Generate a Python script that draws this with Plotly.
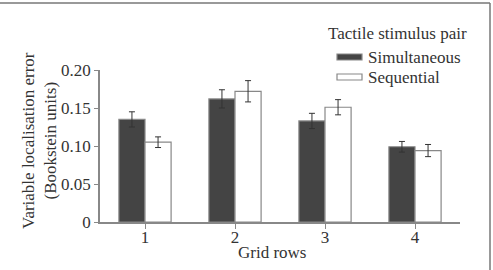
import plotly.graph_objects as go

categories = ["1", "2", "3", "4"]
simultaneous = [0.135, 0.162, 0.133, 0.099]
simultaneous_err = [0.010, 0.012, 0.010, 0.007]
sequential = [0.105, 0.172, 0.151, 0.094]
sequential_err = [0.007, 0.014, 0.010, 0.008]
y_tickvals = [0, 0.05, 0.10, 0.15, 0.20]
y_ticktext = ["0", "0.05", "0.10", "0.15", "0.20"]

FONT = "Liberation Serif"
W, H = 493, 270
ML, MR, MT, MB = 100, 33, 70, 48
PW, PH = W - ML - MR, H - MT - MB


def px(x):
    return (x - ML) / PW


def py(y):
    return (H - MB - y) / PH


fig = go.Figure()
fig.add_trace(go.Bar(
    x=categories, y=simultaneous, name="Simultaneous",
    marker=dict(color="#444444", line=dict(color="#888888", width=1.2)),
    error_y=dict(type="data", array=simultaneous_err, color="#333333", thickness=1, width=3),
))
fig.add_trace(go.Bar(
    x=categories, y=sequential, name="Sequential",
    marker=dict(color="#ffffff", line=dict(color="#888888", width=1.2)),
    error_y=dict(type="data", array=sequential_err, color="#333333", thickness=1, width=3),
))

fig.update_layout(
    width=W, height=H,
    margin=dict(l=ML, r=MR, t=MT, b=MB, pad=0, autoexpand=False),
    paper_bgcolor="white", plot_bgcolor="white",
    barmode="group", bargap=0.42, bargroupgap=0,
    showlegend=False,
    font=dict(family=FONT, size=17, color="#333333"),
    xaxis=dict(
        type="category", range=[-0.5, 3.5], automargin=False,
        showline=True, linecolor="#888888", linewidth=1.5,
        ticks="outside", ticklen=5, tickcolor="#888888", tickwidth=1.2,
        ticklabelstandoff=-6,
        showgrid=False, zeroline=False,
        tickfont=dict(family=FONT, size=17),
    ),
    yaxis=dict(
        range=[0, 0.2], automargin=False,
        showline=True, linecolor="#888888", linewidth=1.5,
        ticks="outside", ticklen=4, tickcolor="#888888", tickwidth=1.2,
        tickvals=y_tickvals, ticktext=y_ticktext,
        showgrid=False, zeroline=False,
        tickfont=dict(family=FONT, size=17),
    ),
)

# X-axis title
fig.add_annotation(
    xref="paper", yref="paper", x=px(272), y=py(252),
    text="Grid rows", showarrow=False, xanchor="center", yanchor="middle",
    font=dict(family=FONT, size=17, color="#333333"),
)

# Y-axis title (two lines)
fig.add_annotation(
    xref="paper", yref="paper", x=px(39), y=py(141),
    text="Variable localisation error<br>(Bookstein units)",
    textangle=-90, showarrow=False, xanchor="center", yanchor="middle",
    font=dict(family=FONT, size=17, color="#333333"),
)

# Manual legend
fig.add_annotation(
    xref="paper", yref="paper", x=px(326), y=py(34),
    text="Tactile stimulus pair", showarrow=False,
    xanchor="left", yanchor="middle",
    font=dict(family=FONT, size=17, color="#333333"),
)
legend_items = [("Simultaneous", "#444444", 57), ("Sequential", "#ffffff", 77)]
for label, color, yc in legend_items:
    fig.add_shape(
        type="rect", xref="paper", yref="paper",
        x0=px(337), x1=px(362), y0=py(yc - 3), y1=py(yc + 3),
        fillcolor=color, line=dict(color="#888888", width=1.2),
    )
    fig.add_annotation(
        xref="paper", yref="paper", x=px(366), y=py(yc),
        text=label, showarrow=False, xanchor="left", yanchor="middle",
        font=dict(family=FONT, size=17, color="#333333"),
    )

# Frame lines (top and right)
fig.add_shape(type="line", xref="paper", yref="paper",
              x0=px(0), x1=px(490), y0=py(3), y1=py(3),
              line=dict(color="#777777", width=1.5))
fig.add_shape(type="line", xref="paper", yref="paper",
              x0=px(490), x1=px(490), y0=py(3), y1=py(270),
              line=dict(color="#777777", width=1.5))

fig.write_html("out.html")
